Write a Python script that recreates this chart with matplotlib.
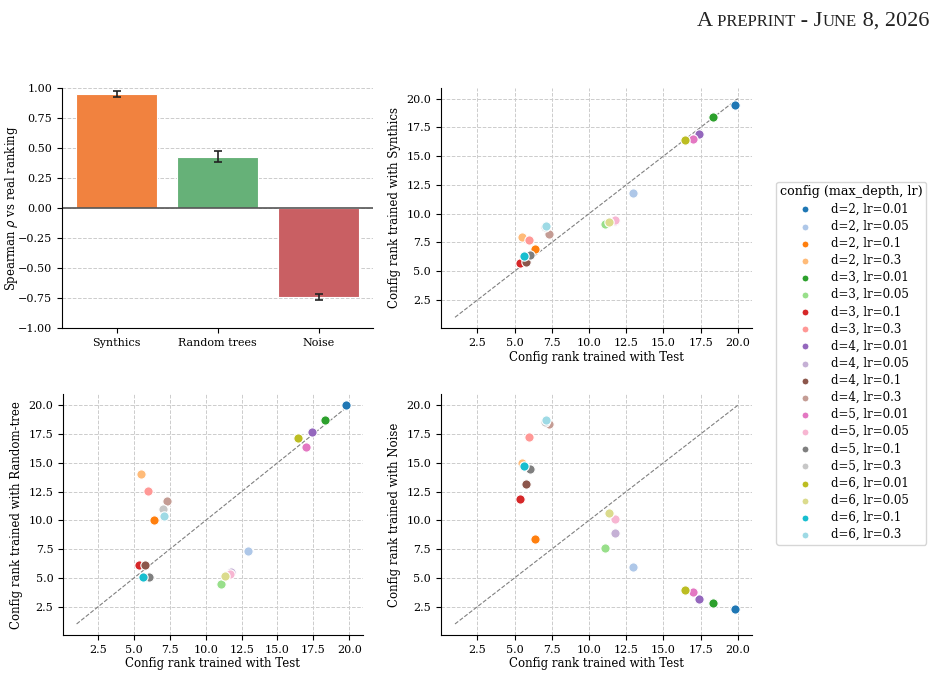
import matplotlib.pyplot as plt

plt.rcParams['font.family'] = ['DejaVu Serif']
plt.rcParams['font.size'] = 8.5
plt.rcParams['xtick.labelsize'] = 8
plt.rcParams['ytick.labelsize'] = 8

# configs in legend order (tab20 colours)
configs = [f"d={d}, lr={lr}" for d in [2, 3, 4, 5, 6] for lr in ["0.01", "0.05", "0.1", "0.3"]]

rank_test = [19.8, 12.96, 6.4, 5.48, 18.34, 11.09, 5.37, 5.96, 17.4, 11.74,
             5.8, 7.3, 16.99, 11.72, 6.07, 7.05, 16.43, 11.32, 5.64, 7.1]
rank_synth = [19.45, 11.76, 6.94, 7.99, 18.38, 9.09, 5.75, 7.73, 16.92, 9.4,
              5.81, 8.22, 16.52, 9.44, 6.45, 8.85, 16.4, 9.32, 6.3, 8.94]
rank_rtree = [20.0, 7.38, 10.0, 14.02, 18.69, 4.45, 6.16, 12.57, 17.71, 5.55,
              6.1, 11.67, 16.34, 5.32, 5.11, 10.95, 17.16, 5.14, 5.11, 10.42]
rank_noise = [2.32, 5.93, 8.39, 14.98, 2.81, 7.64, 11.85, 17.21, 3.2, 8.86,
              13.18, 18.37, 3.78, 10.16, 14.49, 18.55, 3.98, 10.66, 14.72, 18.75]

bar_labels = ["Synthics", "Random trees", "Noise"]
bar_rho = [0.95, 0.425, -0.74]
bar_err = [0.025, 0.045, 0.025]
bar_colors = ["#F1823F", "#66B178", "#C95F63"]

colors = [plt.cm.tab20(i) for i in range(20)]

fig = plt.figure(figsize=(9.4, 6.74), dpi=100)

# page header (small caps by hand)
x0 = 0.741
y0 = 0.962
pieces = [("A", 16), (" PREPRINT", 12), (" - J", 16), ("UNE", 12), (" 8, 2026", 16)]
renderer = fig.canvas.get_renderer()
for txt, size in pieces:
    t = fig.text(x0, y0, txt, fontsize=size, family='Liberation Serif', color='#222222', va='baseline')
    bb = t.get_window_extent(renderer=renderer)
    x0 += bb.width / fig.bbox.width

# bar chart
ax = fig.add_axes([0.066, 0.513, 0.331, 0.357])
ax.bar(range(3), bar_rho, width=0.8, color=bar_colors, edgecolor='white', linewidth=0.8,
       yerr=bar_err, capsize=3, error_kw=dict(ecolor='#222222', elinewidth=1.2, capthick=1.2))
ax.axhline(0, color='#555555', linewidth=1.2)
ax.set_xticks(range(3))
ax.set_xticklabels(bar_labels)
ax.set_ylim(-1, 1)
ax.set_yticks([-1, -0.75, -0.5, -0.25, 0, 0.25, 0.5, 0.75, 1.0])
ax.set_ylabel(r"Spearman $\rho$ vs real ranking", fontsize=8.4)
ax.yaxis.set_label_coords(-0.135, 0.5)
ax.yaxis.grid(True, linestyle='--', color='#cccccc', linewidth=0.7)
ax.set_axisbelow(True)
ax.spines[['top', 'right']].set_visible(False)


def scatter_panel(rect, yvals, ylabel):
    a = fig.add_axes(rect)
    a.plot([1, 20], [1, 20], linestyle='--', color='gray', linewidth=0.8)
    for i in range(20):
        a.scatter(rank_test[i], yvals[i], s=45, color=colors[i], edgecolor='white',
                  linewidth=0.8, label=configs[i], zorder=3)
    a.set_xlabel("Config rank trained with Test", labelpad=2)
    a.set_ylabel(ylabel)
    a.set_xticks([2.5, 5, 7.5, 10, 12.5, 15, 17.5, 20])
    a.set_yticks([2.5, 5, 7.5, 10, 12.5, 15, 17.5, 20])
    a.grid(True, linestyle='--', color='#cccccc', linewidth=0.7)
    a.set_axisbelow(True)
    a.spines[['top', 'right']].set_visible(False)
    return a


ax2 = scatter_panel([0.469, 0.513, 0.331, 0.357], rank_synth, "Config rank trained with Synthics")
ax3 = scatter_panel([0.067, 0.058, 0.319, 0.357], rank_rtree, "Config rank trained with Random-tree")
ax4 = scatter_panel([0.469, 0.058, 0.331, 0.357], rank_noise, "Config rank trained with Noise")

handles, labels = ax2.get_legend_handles_labels()
fig.legend(handles, labels, title="config (max_depth, lr)", loc='upper left',
           bbox_to_anchor=(0.8195, 0.739), fontsize=8.5, title_fontsize=9.2,
           frameon=True, edgecolor='#cccccc', markerscale=0.75, handletextpad=1.2,
           labelspacing=0.35, borderpad=0.3)

fig.savefig("out.png", dpi=100)
